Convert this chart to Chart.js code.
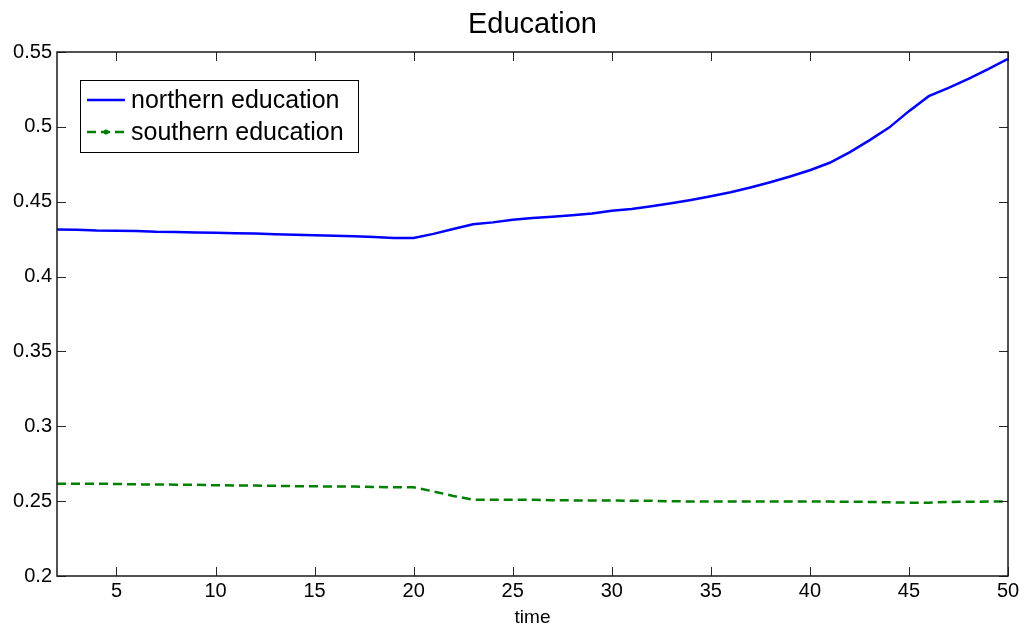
<!DOCTYPE html>
<html>
<head>
<meta charset="utf-8">
<script src="https://cdn.jsdelivr.net/npm/chart.js@4"></script>
<style>
  html, body { margin: 0; padding: 0; background: #fff; }
  #wrap { width: 1026px; height: 629px; }
</style>
</head>
<body>
<div id="wrap"><canvas id="eduChart" width="1026" height="629"></canvas></div>
<script>
let times = [];
for (let t = 2; t <= 50; t++) times.push(t);

let northern = [
  0.4315, 0.4313, 0.4308, 0.4306, 0.4305, 0.4300, 0.4298, 0.4295, 0.4293, 0.4290,
  0.4287, 0.4283, 0.4280, 0.4276, 0.4272, 0.4270, 0.4265, 0.4258, 0.4257, 0.4285,
  0.4318, 0.4350, 0.4362, 0.4380, 0.4392, 0.4400, 0.4410, 0.4422, 0.4440, 0.4452,
  0.4470, 0.4490, 0.4512, 0.4537, 0.4563, 0.4595, 0.4630, 0.4668, 0.4710, 0.4760,
  0.4830, 0.4910, 0.4995, 0.5105, 0.5205, 0.5260, 0.5320, 0.5385, 0.5455
];
let southern = [
  0.2617, 0.2617, 0.2616, 0.2615, 0.2612, 0.2611, 0.2610, 0.2609, 0.2606, 0.2605,
  0.2604, 0.2602, 0.2600, 0.2599, 0.2598, 0.2597, 0.2594, 0.2593, 0.2592, 0.2565,
  0.2535, 0.2510, 0.2510, 0.2510, 0.2509, 0.2506, 0.2505, 0.2505, 0.2504, 0.2503,
  0.2502, 0.2499, 0.2498, 0.2498, 0.2497, 0.2497, 0.2497, 0.2497, 0.2497, 0.2497,
  0.2496, 0.2495, 0.2492, 0.2490, 0.2490, 0.2494, 0.2496, 0.2497, 0.2497
];

let xTicks = [5, 10, 15, 20, 25, 30, 35, 40, 45, 50];
let yTicks = [0.2, 0.25, 0.3, 0.35, 0.4, 0.45, 0.5, 0.55];
let yTickLabels = ["0.2", "0.25", "0.3", "0.35", "0.4", "0.45", "0.5", "0.55"];
let chartTitle = "Education";

let FONT = "Liberation Sans, Arial, sans-serif";

// MATLAB style box with inward ticks, title over the axes and a legend inside
const matlabBox = {
  id: "matlabBox",
  afterDatasetsDraw(chart) {
    const ctx = chart.ctx;
    const a = chart.chartArea;
    const xs = chart.scales.x, ys = chart.scales.y;
    const len = 9;
    ctx.save();
    ctx.strokeStyle = "#262626";
    ctx.lineWidth = 1;
    ctx.beginPath();
    xTicks.forEach(v => {
      const px = Math.round(xs.getPixelForValue(v)) + 0.5;
      ctx.moveTo(px, a.bottom); ctx.lineTo(px, a.bottom - len);
      ctx.moveTo(px, a.top); ctx.lineTo(px, a.top + len);
    });
    yTicks.forEach(v => {
      const py = Math.round(ys.getPixelForValue(v)) + 0.5;
      ctx.moveTo(a.left, py); ctx.lineTo(a.left + len, py);
      ctx.moveTo(a.right, py); ctx.lineTo(a.right - len, py);
    });
    ctx.stroke();
    ctx.lineWidth = 1.5;
    ctx.strokeStyle = "#1a1a1a";
    ctx.strokeRect(a.left, a.top, a.right - a.left, a.bottom - a.top);

    // title, centred on the axes
    ctx.fillStyle = "#000";
    ctx.font = "29px " + FONT;
    ctx.textAlign = "center";
    ctx.textBaseline = "alphabetic";
    ctx.fillText(chartTitle, (a.left + a.right) / 2, 33);

    // legend
    const lx = a.left + 23, ly = a.top + 28, lw = 278, lh = 72;
    ctx.textAlign = "left";
    ctx.fillStyle = "#fff";
    ctx.fillRect(lx, ly, lw, lh);
    ctx.lineWidth = 1;
    ctx.strokeStyle = "#000";
    ctx.strokeRect(lx + 0.5, ly + 0.5, lw, lh);
    ctx.font = "25px " + FONT;
    ctx.textBaseline = "middle";
    chart.data.datasets.forEach((ds, i) => {
      const cy = ly + 20 + i * 32;
      ctx.strokeStyle = ds.borderColor;
      ctx.lineWidth = ds.borderWidth;
      ctx.setLineDash(ds.borderDash || []);
      ctx.beginPath();
      ctx.moveTo(lx + 7, cy); ctx.lineTo(lx + 45, cy);
      ctx.stroke();
      ctx.setLineDash([]);
      if (ds.borderDash) {
        ctx.fillStyle = ds.borderColor;
        ctx.beginPath();
        ctx.arc(lx + 26, cy, 2.5, 0, Math.PI * 2);
        ctx.fill();
      }
      ctx.fillStyle = "#000";
      ctx.fillText(ds.label, lx + 51, cy + 1);
    });
    ctx.restore();
  }
};

new Chart(document.getElementById("eduChart").getContext("2d"), {
  type: "line",
  data: {
    labels: times,
    datasets: [
      {
        label: "northern education",
        data: northern,
        borderColor: "#0000ff",
        borderWidth: 2.5,
        pointRadius: 0,
        tension: 0,
      },
      {
        label: "southern education",
        data: southern,
        borderColor: "#008000",
        borderWidth: 2.5,
        borderDash: [9, 5],
        pointRadius: 0,
        tension: 0,
      },
    ],
  },
  plugins: [matlabBox],
  options: {
    responsive: false,
    animation: false,
    layout: { padding: { left: 0, right: 18, top: 52, bottom: 0 } },
    scales: {
      x: {
        type: "linear",
        min: 2,
        max: 50,
        grid: { display: false, drawTicks: false },
        border: { display: false },
        afterBuildTicks: (scale) => { scale.ticks = xTicks.map(v => ({ value: v })); },
        afterFit: (scale) => { scale.height = 53; },
        ticks: {
          color: "#000",
          padding: 3,
          maxRotation: 0,
          font: { family: FONT, size: 20 },
          callback: (v) => String(v),
        },
        title: {
          display: true,
          text: "time",
          color: "#000",
          padding: { top: -2, bottom: 0 },
          font: { family: FONT, size: 19 },
        },
      },
      y: {
        min: 0.2,
        max: 0.55,
        grid: { display: false, drawTicks: false },
        border: { display: false },
        afterBuildTicks: (scale) => { scale.ticks = yTicks.map(v => ({ value: v })); },
        afterFit: (scale) => { scale.width = 57; },
        ticks: {
          color: "#000",
          padding: 5,
          font: { family: FONT, size: 20 },
          callback: (v) => yTickLabels[yTicks.findIndex(t => Math.abs(t - v) < 1e-9)],
        },
      },
    },
    plugins: {
      legend: { display: false },
      tooltip: { enabled: false },
      title: { display: false },
    },
  },
});
</script>
</body>
</html>
